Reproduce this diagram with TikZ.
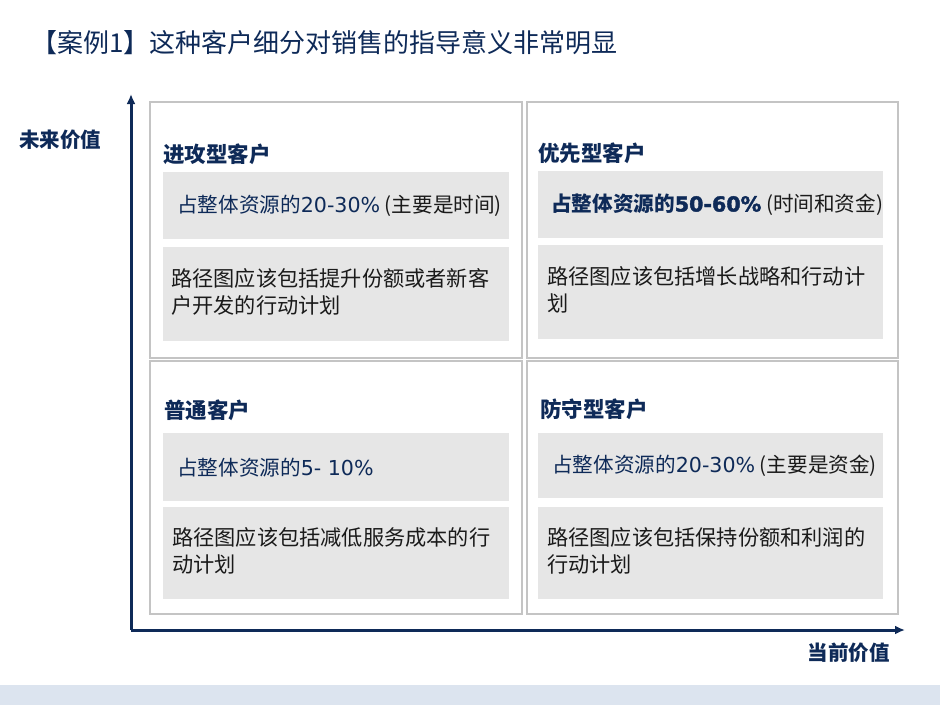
\documentclass[tikz,border=0pt]{standalone}
\usepackage{fontspec}
\setmainfont{Noto Sans CJK SC}
\newfontfamily\latf{DejaVu Sans}
\newfontfamily\latfb{DejaVu Sans}[FakeBold=2]
\usetikzlibrary{arrows.meta}
\definecolor{navy}{HTML}{0E2A58}
\definecolor{boxgray}{HTML}{E6E6E6}
\definecolor{quadline}{HTML}{C4C4C4}
\definecolor{band}{HTML}{DCE4EF}
\definecolor{txt}{HTML}{1A1A1A}
\tikzset{
  quad/.style={draw=quadline, line width=1.6pt, fill=white, anchor=north west, inner sep=0pt},
  gbox/.style={fill=boxgray, anchor=north west, inner sep=0pt},
  qtitle/.style={anchor=west, inner sep=0pt, font=\fontsize{21.5}{24}\selectfont\bfseries, text=navy},
  share/.style={anchor=west, inner sep=0pt, font=\fontsize{20.6}{24}\selectfont, text=navy},
  body/.style={anchor=west, inner sep=0pt, align=left, font=\fontsize{21.2}{27}\selectfont, text=txt},
  axislbl/.style={inner sep=0pt, font=\fontsize{20.5}{24}\selectfont\bfseries, text=navy},
  axis/.style={draw=navy, line width=3pt, -{Latex[length=10pt,width=9pt]}}
}
\begin{document}
\begin{tikzpicture}[x=1pt,y=-1pt]
\useasboundingbox (0,0) rectangle (940,705);
\fill[band] (0,685) rectangle (940,705);
% title
\node[anchor=west, inner sep=0pt, font=\fontsize{26}{30}\selectfont, text=navy] (title) at (31,43) {【案例1】这种客户细分对销售的指导意义非常明显};
% axes
\coordinate (origin) at (131,630);
\coordinate (ytip) at (131,94);
\coordinate (xtip) at (905,630);
\draw[axis] (origin) -- (ytip);
\draw[axis] (origin) -- (xtip);
\node[axislbl, anchor=west] (ylbl) at (19,140) {未来价值};
\node[axislbl, anchor=east] (xlbl) at (890,653) {当前价值};
% quadrants
\node[quad, minimum width=372, minimum height=256] (q1) at (149,101) {};
\node[quad, minimum width=371, minimum height=256] (q2) at (526,101) {};
\node[quad, minimum width=372, minimum height=253] (q3) at (149,360) {};
\node[quad, minimum width=371, minimum height=253] (q4) at (526,360) {};
% gray boxes
\node[gbox, minimum width=346, minimum height=67] (a1) at (163,172) {};
\node[gbox, minimum width=346, minimum height=94] (b1) at (163,247) {};
\node[gbox, minimum width=345, minimum height=67] (a2) at (538,171) {};
\node[gbox, minimum width=345, minimum height=94] (b2) at (538,245) {};
\node[gbox, minimum width=346, minimum height=68] (a3) at (163,433) {};
\node[gbox, minimum width=346, minimum height=92] (b3) at (163,507) {};
\node[gbox, minimum width=345, minimum height=65] (a4) at (538,433) {};
\node[gbox, minimum width=345, minimum height=92] (b4) at (538,507) {};
% titles
\node[qtitle] (t1) at (163,154) {进攻型客户};
\node[qtitle] (t2) at (538,153) {优先型客户};
\node[qtitle] (t3) at (164,410) {普通客户};
\node[qtitle] (t4) at (540,409) {防守型客户};
% shares
\node[share] (s1) at ([xshift=14pt]a1.west) {占整体资源的{\latf 20-30\%} {\color{txt}(主要是时间)}};
\node[share] (s2) at ([xshift=13pt]a2.west) {\bfseries 占整体资源的{\latfb 50-60\%} {\mdseries\color{txt}(时间和资金)}};
\node[share] (s3) at ([xshift=14pt]a3.west) {占整体资源的{\latf 5- 10\%}};
\node[share] (s4) at ([xshift=14pt]a4.west) {占整体资源的{\latf 20-30\%} {\color{txt}(主要是资金)}};
% bodies
\node[body] (p1) at ([xshift=8pt,yshift=2pt]b1.west) {路径图应该包括提升份额或者新客\\户开发的行动计划};
\node[body] (p2) at ([xshift=9pt,yshift=2pt]b2.west) {路径图应该包括增长战略和行动计\\划};
\node[body] (p3) at ([xshift=9pt,yshift=2pt]b3.west) {路径图应该包括减低服务成本的行\\动计划};
\node[body] (p4) at ([xshift=9pt,yshift=2pt]b4.west) {路径图应该包括保持份额和利润的\\行动计划};
\end{tikzpicture}
\end{document}
